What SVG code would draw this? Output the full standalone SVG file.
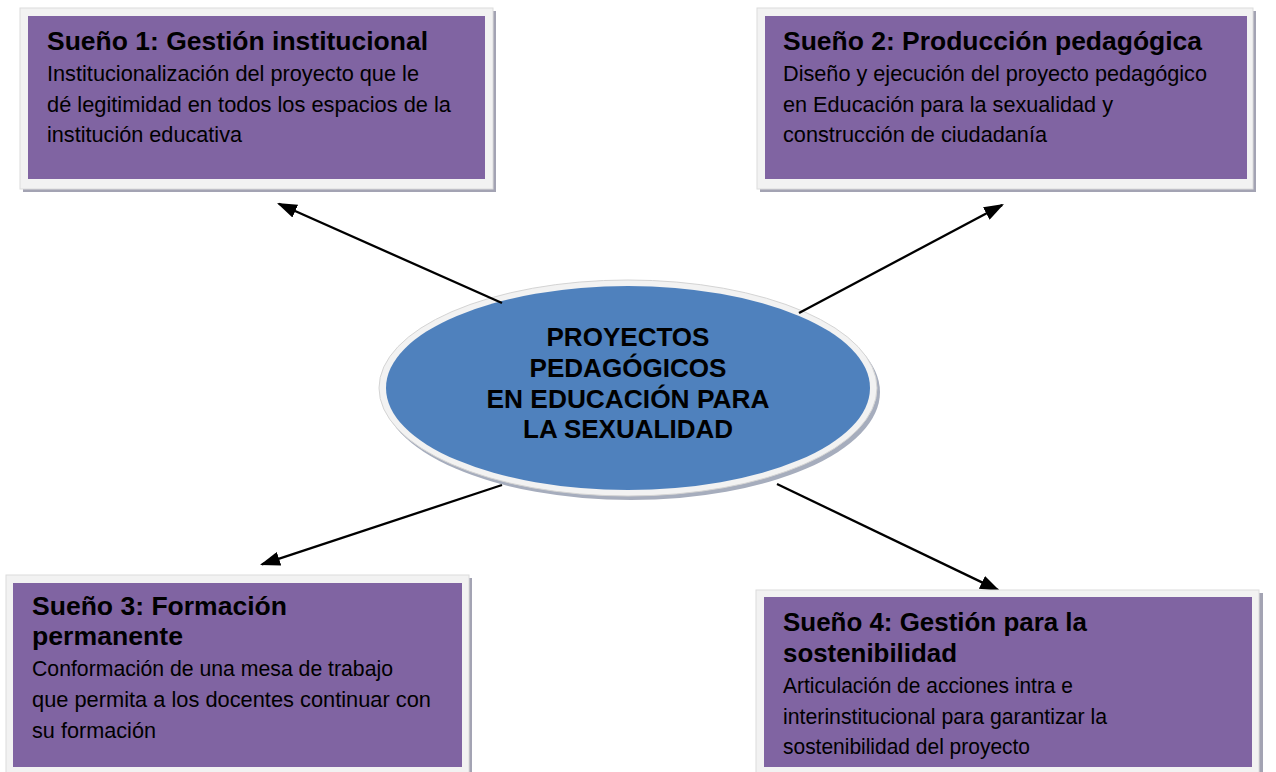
<svg xmlns="http://www.w3.org/2000/svg" width="1276" height="772" viewBox="0 0 1276 772">
<defs>
<style>
.frame{fill:#f2f2f2;stroke:#dcdcdc;stroke-width:1}
.shadow{fill:#a3a3b3}
.card{fill:#8064a2}
.t{font-family:"Liberation Sans",Arial,sans-serif;font-weight:bold;font-size:25px;fill:#000}
.b{font-family:"Liberation Sans",Arial,sans-serif;font-size:22.5px;fill:#000}
.c{font-family:"Liberation Sans",Arial,sans-serif;font-weight:bold;font-size:25px;fill:#000;text-anchor:middle}
.conn{stroke:#000;stroke-width:2.3;fill:none;marker-end:url(#ah)}
</style>
<marker id="ah" markerUnits="userSpaceOnUse" viewBox="0 0 20 14" refX="18" refY="7" markerWidth="20" markerHeight="14" orient="auto">
<path d="M0,0 L20,7 L0,14 z" fill="#000"/>
</marker>
</defs>
<rect width="1276" height="772" fill="#fff"/>
<g id="center">
<ellipse cx="631" cy="392" rx="249" ry="108" fill="#a6adbd"/>
<ellipse cx="628" cy="388" rx="249" ry="108" fill="#f2f2f2" stroke="#d4d4d4" stroke-width="1"/>
<ellipse cx="628" cy="388" rx="242" ry="102" fill="#4f81bd"/>
<text class="c" x="628" y="346" textLength="163" lengthAdjust="spacingAndGlyphs">PROYECTOS</text>
<text class="c" x="628" y="377" textLength="197" lengthAdjust="spacingAndGlyphs">PEDAGÓGICOS</text>
<text class="c" x="628" y="408" textLength="283" lengthAdjust="spacingAndGlyphs">EN EDUCACIÓN PARA</text>
<text class="c" x="628" y="438" textLength="210" lengthAdjust="spacingAndGlyphs">LA SEXUALIDAD</text>
</g>
<g id="connectors">
<line class="conn" x1="502" y1="303" x2="278.8" y2="203.8"/>
<line class="conn" x1="799" y1="313" x2="1002.2" y2="205"/>
<line class="conn" x1="502" y1="485" x2="261.9" y2="564.4"/>
<line class="conn" x1="777" y1="484" x2="998.2" y2="590.1"/>
</g>
<g id="sueno1">
<rect class="shadow" x="23" y="11" width="473" height="181"/>
<rect class="frame" x="20" y="8" width="473" height="181"/>
<rect class="card" x="28" y="16" width="457" height="163"/>
<text class="t" x="47" y="50" textLength="381" lengthAdjust="spacingAndGlyphs">Sueño 1: Gestión institucional</text>
<text class="b" x="47" y="81" textLength="372" lengthAdjust="spacingAndGlyphs">Institucionalización del proyecto que le</text>
<text class="b" x="47" y="112" textLength="404" lengthAdjust="spacingAndGlyphs">dé legitimidad en todos los espacios de la</text>
<text class="b" x="47" y="142" textLength="195" lengthAdjust="spacingAndGlyphs">institución educativa</text>
</g>
<g id="sueno2">
<rect class="shadow" x="760" y="11" width="496" height="181"/>
<rect class="frame" x="757" y="8" width="496" height="181"/>
<rect class="card" x="765" y="16" width="482" height="163"/>
<text class="t" x="783" y="50" textLength="419" lengthAdjust="spacingAndGlyphs">Sueño 2: Producción pedagógica</text>
<text class="b" x="783" y="81" textLength="424" lengthAdjust="spacingAndGlyphs">Diseño y ejecución del proyecto pedagógico</text>
<text class="b" x="783" y="112" textLength="330" lengthAdjust="spacingAndGlyphs">en Educación para la sexualidad y</text>
<text class="b" x="783" y="142" textLength="264" lengthAdjust="spacingAndGlyphs">construcción de ciudadanía</text>
</g>
<g id="sueno3">
<rect class="shadow" x="9" y="578" width="463" height="200"/>
<rect class="frame" x="6" y="575" width="463" height="200"/>
<rect class="card" x="13" y="583" width="449" height="184"/>
<text class="t" x="32" y="615" textLength="255" lengthAdjust="spacingAndGlyphs">Sueño 3: Formación</text>
<text class="t" x="32" y="645" textLength="151" lengthAdjust="spacingAndGlyphs">permanente</text>
<text class="b" x="32" y="676" textLength="361" lengthAdjust="spacingAndGlyphs">Conformación de una mesa de trabajo</text>
<text class="b" x="32" y="707" textLength="399" lengthAdjust="spacingAndGlyphs">que permita a los docentes continuar con</text>
<text class="b" x="32" y="738" textLength="124" lengthAdjust="spacingAndGlyphs">su formación</text>
</g>
<g id="sueno4">
<rect class="shadow" x="759" y="593" width="504" height="190"/>
<rect class="frame" x="756" y="590" width="503" height="190"/>
<rect class="card" x="764" y="597" width="488" height="170"/>
<text class="t" x="783" y="631" textLength="304" lengthAdjust="spacingAndGlyphs">Sueño 4: Gestión para la</text>
<text class="t" x="783" y="662" textLength="174" lengthAdjust="spacingAndGlyphs">sostenibilidad</text>
<text class="b" x="783" y="693" textLength="290" lengthAdjust="spacingAndGlyphs">Articulación de acciones intra e</text>
<text class="b" x="783" y="724" textLength="324" lengthAdjust="spacingAndGlyphs">interinstitucional para garantizar la</text>
<text class="b" x="783" y="754" textLength="247" lengthAdjust="spacingAndGlyphs">sostenibilidad del proyecto</text>
</g>
</svg>
